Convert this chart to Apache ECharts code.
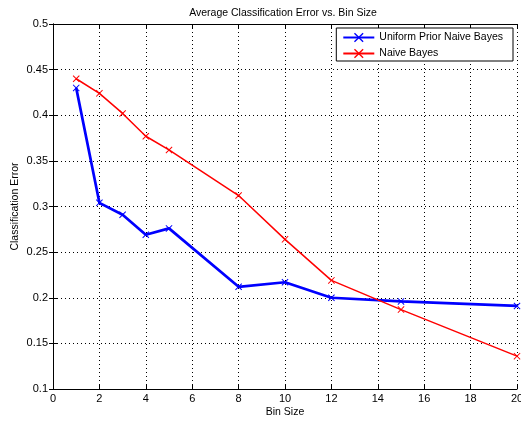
<!DOCTYPE html>
<html><head><meta charset="utf-8">
<script src="https://cdn.jsdelivr.net/npm/echarts@6/dist/echarts.min.js"></script>
<style>html,body{margin:0;padding:0;background:#fff}#c{width:521px;height:422px}</style>
</head><body><div id="c"></div>
<script>
const binSizes = [1, 2, 3, 4, 5, 8, 10, 12, 15, 20];
const uniformPriorNB = [0.430, 0.304, 0.291, 0.269, 0.276, 0.212, 0.217, 0.200, 0.196, 0.191];
const naiveBayes = [0.440, 0.424, 0.402, 0.377, 0.362, 0.312, 0.264, 0.219, 0.187, 0.136];
const seriesNames = ['Uniform Prior Naive Bayes', 'Naive Bayes'];

const xMark = 'path://M0,1 L1,0 L5,4 L9,0 L10,1 L6,5 L10,9 L9,10 L5,6 L1,10 L0,9 L4,5 Z';
const font = 'Liberation Sans';
const chart = echarts.init(document.getElementById('c'), null, {renderer: 'canvas'});
const pair = (xs, ys) => xs.map((x, i) => [x, ys[i]]);
const hiddenAxis = {
  axisLine: {show: true, lineStyle: {color: '#000', width: 1}},
  axisTick: {show: true, inside: true, length: 4, lineStyle: {color: '#000'}},
  axisLabel: {show: false}, splitLine: {show: false}
};
chart.setOption({
  animation: false,
  backgroundColor: '#fff',
  title: {text: 'Average Classification Error vs. Bin Size', left: 278, top: 3, textAlign: 'center',
    textStyle: {fontFamily: font, fontSize: 10.5, fontWeight: 'normal', color: '#000'}},
  legend: {
    data: seriesNames, orient: 'vertical', right: 8, top: 28,
    backgroundColor: '#fff', borderColor: '#000', borderWidth: 1,
    padding: [4, 10, 2, 6], itemGap: 5, itemWidth: 31, itemHeight: 12,
    textStyle: {fontFamily: font, fontSize: 10.5, color: '#000'}
  },
  grid: {left: 53, right: 4, top: 24, bottom: 33, containLabel: false, outerBoundsMode: 'none'},
  xAxis: [{
    type: 'value', min: 0, max: 20, interval: 2,
    name: 'Bin Size', nameLocation: 'middle', nameGap: 18, nameMoveOverlap: false,
    nameTextStyle: {fontFamily: font, fontSize: 10.5, color: '#000'},
    axisLine: {show: true, onZero: false, lineStyle: {color: '#000'}},
    axisTick: {show: true, inside: true, length: 4, lineStyle: {color: '#000'}},
    axisLabel: {fontFamily: font, fontSize: 11, color: '#000', margin: 4},
    splitLine: {show: true, lineStyle: {color: '#000', type: [1, 3], width: 1}}
  }, Object.assign({type: 'value', position: 'top', min: 0, max: 20, interval: 2}, hiddenAxis)],
  yAxis: [{
    type: 'value', min: 0.1, max: 0.5, interval: 0.05,
    name: 'Classification Error', nameLocation: 'middle', nameGap: 32, nameMoveOverlap: false,
    nameTextStyle: {fontFamily: font, fontSize: 10.5, color: '#000'},
    axisLine: {show: true, onZero: false, lineStyle: {color: '#000'}},
    axisTick: {show: true, inside: true, length: 4, lineStyle: {color: '#000'}},
    axisLabel: {fontFamily: font, fontSize: 11, color: '#000', margin: 5,
      formatter: v => String(Math.round(v * 100) / 100)},
    splitLine: {show: true, lineStyle: {color: '#000', type: [1, 3], width: 1}}
  }, Object.assign({type: 'value', position: 'right', min: 0.1, max: 0.5, interval: 0.05}, hiddenAxis)],
  series: [
    {name: seriesNames[0], type: 'line', data: pair(binSizes, uniformPriorNB),
      symbol: xMark, symbolSize: 7, showAllSymbol: true,
      lineStyle: {color: '#0000ff', width: 2.7}, itemStyle: {color: '#0000ff'}},
    {name: seriesNames[1], type: 'line', data: pair(binSizes, naiveBayes),
      symbol: xMark, symbolSize: 7, showAllSymbol: true,
      lineStyle: {color: '#ff0000', width: 1.5}, itemStyle: {color: '#ff0000'}}
  ]
});
</script></body></html>
